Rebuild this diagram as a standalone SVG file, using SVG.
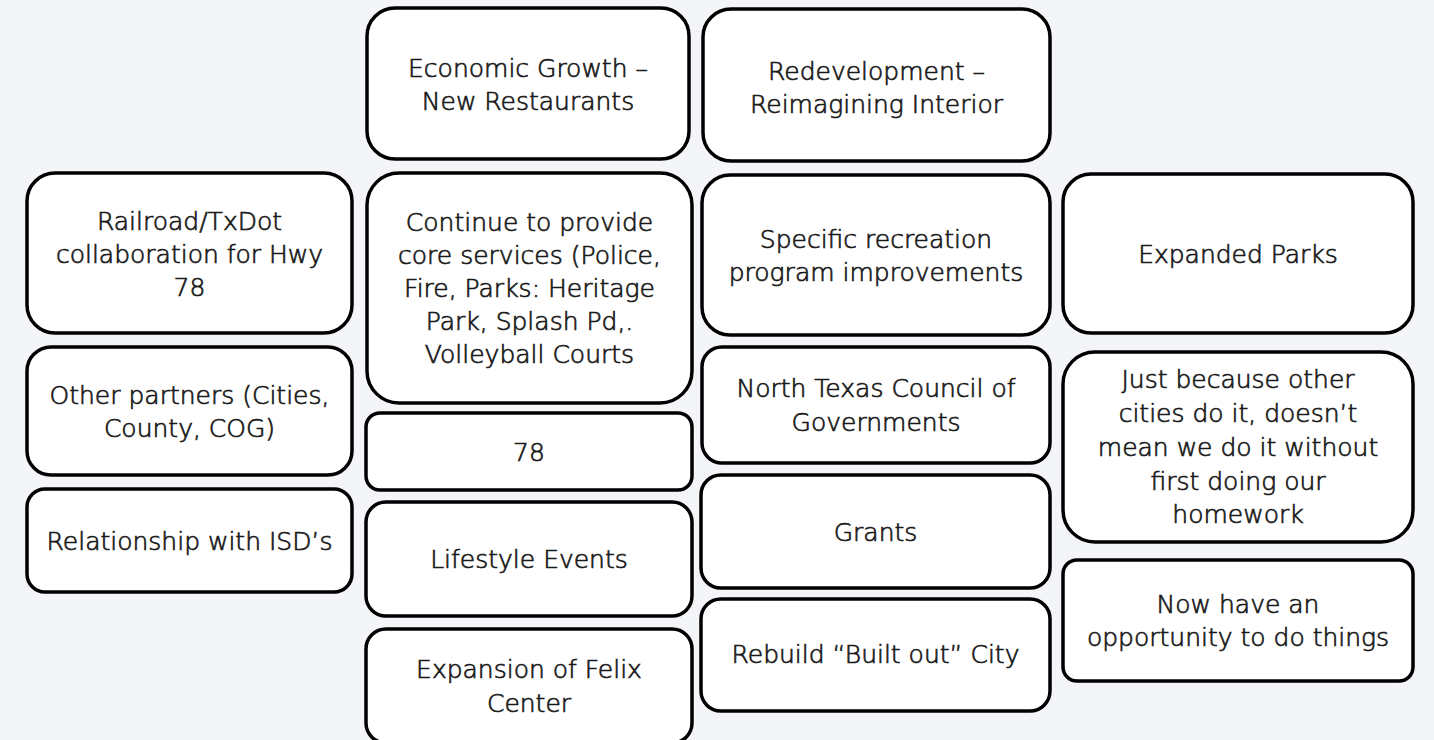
<svg xmlns="http://www.w3.org/2000/svg" width="1434" height="740" viewBox="0 0 1434 740">
  <style>
    .box { fill: #ffffff; stroke: #000000; stroke-width: 3.5; }
    .lbl { font-family: "DejaVu Sans", "Open Sans", sans-serif; font-weight: 200; font-size: 25px; fill: #1a1a1a; stroke: #1a1a1a; stroke-width: 0.7px; text-anchor: middle; }
  </style>
  <rect width="1434" height="740" fill="#f4f5f9"/>

  <!-- column 1 -->
  <g id="railroad">
    <rect class="box" x="27" y="173" width="325" height="160" rx="28"/>
    <text class="lbl" x="189.5" y="230">Railroad/TxDot</text>
    <text class="lbl" x="189.5" y="263">collaboration for Hwy</text>
    <text class="lbl" x="189.5" y="296">78</text>
  </g>
  <g id="other-partners">
    <rect class="box" x="27" y="347" width="325" height="128" rx="24"/>
    <text class="lbl" x="189.5" y="404">Other partners (Cities,</text>
    <text class="lbl" x="189.5" y="437">County, COG)</text>
  </g>
  <g id="isd">
    <rect class="box" x="27" y="489" width="325" height="103" rx="18"/>
    <text class="lbl" x="189.5" y="550">Relationship with ISD’s</text>
  </g>

  <!-- column 2 -->
  <g id="economic-growth">
    <rect class="box" x="367" y="8" width="322" height="151" rx="28"/>
    <text class="lbl" x="528" y="77">Economic Growth –</text>
    <text class="lbl" x="528" y="110">New Restaurants</text>
  </g>
  <g id="core-services">
    <rect class="box" x="367" y="173" width="325" height="230" rx="32"/>
    <text class="lbl" x="529.5" y="231">Continue to provide</text>
    <text class="lbl" x="529.5" y="264">core services (Police,</text>
    <text class="lbl" x="529.5" y="297">Fire, Parks: Heritage</text>
    <text class="lbl" x="529.5" y="330">Park, Splash Pd,.</text>
    <text class="lbl" x="529.5" y="363">Volleyball Courts</text>
  </g>
  <g id="hwy78">
    <rect class="box" x="366" y="413" width="326" height="77" rx="14"/>
    <text class="lbl" x="529" y="461">78</text>
  </g>
  <g id="lifestyle-events">
    <rect class="box" x="366" y="502" width="326" height="114" rx="20"/>
    <text class="lbl" x="529" y="568">Lifestyle Events</text>
  </g>
  <g id="felix-center">
    <rect class="box" x="366" y="629" width="326" height="114" rx="20"/>
    <text class="lbl" x="529" y="678">Expansion of Felix</text>
    <text class="lbl" x="529" y="712">Center</text>
  </g>

  <!-- column 3 -->
  <g id="redevelopment">
    <rect class="box" x="703" y="9" width="347" height="152" rx="28"/>
    <text class="lbl" x="876.5" y="80">Redevelopment –</text>
    <text class="lbl" x="876.5" y="113">Reimagining Interior</text>
  </g>
  <g id="recreation">
    <rect class="box" x="702" y="175" width="348" height="160" rx="28"/>
    <text class="lbl" x="876" y="248">Specific recreation</text>
    <text class="lbl" x="876" y="281">program improvements</text>
  </g>
  <g id="nctcog">
    <rect class="box" x="702" y="347" width="348" height="116" rx="20"/>
    <text class="lbl" x="876" y="397">North Texas Council of</text>
    <text class="lbl" x="876" y="431">Governments</text>
  </g>
  <g id="grants">
    <rect class="box" x="701" y="475" width="349" height="113" rx="20"/>
    <text class="lbl" x="875.5" y="541">Grants</text>
  </g>
  <g id="rebuild">
    <rect class="box" x="701" y="599" width="349" height="112" rx="20"/>
    <text class="lbl" x="875.5" y="663">Rebuild “Built out” City</text>
  </g>

  <!-- column 4 -->
  <g id="expanded-parks">
    <rect class="box" x="1063" y="174" width="350" height="159" rx="28"/>
    <text class="lbl" x="1238" y="263">Expanded Parks</text>
  </g>
  <g id="homework">
    <rect class="box" x="1063" y="352" width="350" height="190" rx="32"/>
    <text class="lbl" x="1238" y="388">Just because other</text>
    <text class="lbl" x="1238" y="422">cities do it, doesn’t</text>
    <text class="lbl" x="1238" y="456">mean we do it without</text>
    <text class="lbl" x="1238" y="490">first doing our</text>
    <text class="lbl" x="1238" y="523">homework</text>
  </g>
  <g id="opportunity">
    <rect class="box" x="1063" y="560" width="350" height="121" rx="14"/>
    <text class="lbl" x="1238" y="613">Now have an</text>
    <text class="lbl" x="1238" y="646">opportunity to do things</text>
  </g>

  <!-- no connectors between the boxes -->
  <g id="connectors"/>
</svg>
